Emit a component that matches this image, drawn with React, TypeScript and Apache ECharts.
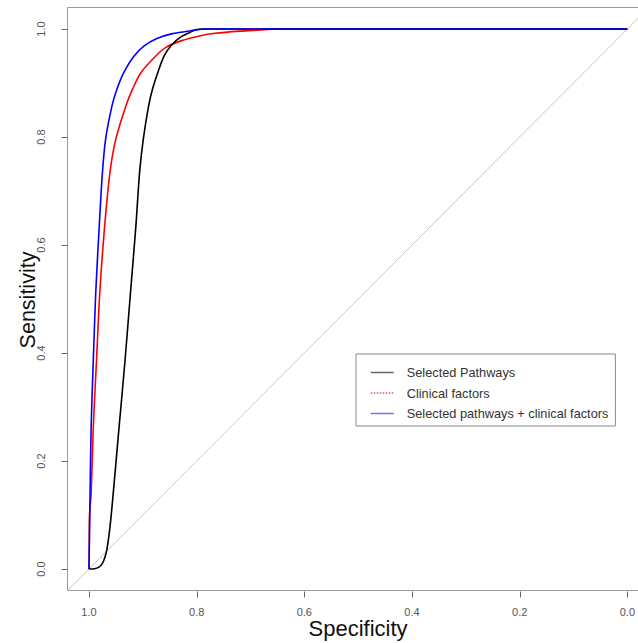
import React, { useEffect, useRef } from "react";
import * as echarts from "echarts";

// [specificity, sensitivity]
const selectedPathways: number[][] = [
  [1.0, 0.0], [0.99, 0.0005], [0.981, 0.004], [0.976, 0.009], [0.972, 0.017],
  [0.967, 0.035], [0.961, 0.078], [0.955, 0.14], [0.944, 0.264], [0.933, 0.387],
  [0.923, 0.511], [0.913, 0.634], [0.906, 0.735], [0.899, 0.797], [0.889, 0.859],
  [0.882, 0.889], [0.872, 0.92], [0.86, 0.951], [0.847, 0.97], [0.83, 0.985],
  [0.812, 0.994], [0.8, 0.999], [0.79, 1.0], [0.6, 1.0], [0.4, 1.0], [0.2, 1.0],
  [0.0, 1.0],
];
const clinicalFactors: number[][] = [
  [1.0, 0.0], [0.9995, 0.05], [0.999, 0.1], [0.996, 0.14], [0.992, 0.264],
  [0.986, 0.387], [0.98, 0.511], [0.971, 0.634], [0.961, 0.735], [0.95, 0.797],
  [0.931, 0.859], [0.919, 0.889], [0.903, 0.92], [0.875, 0.951], [0.857, 0.966],
  [0.829, 0.978], [0.791, 0.988], [0.766, 0.992], [0.72, 0.996], [0.686, 0.998],
  [0.65, 1.0], [0.4, 1.0], [0.2, 1.0], [0.0, 1.0],
];
const combined: number[][] = [
  [1.0, 0.0], [0.999, 0.07], [0.998, 0.14], [0.996, 0.264], [0.992, 0.387],
  [0.9875, 0.511], [0.981, 0.634], [0.975, 0.735], [0.969, 0.797], [0.957, 0.859],
  [0.948, 0.889], [0.935, 0.92], [0.917, 0.949], [0.897, 0.969], [0.875, 0.982],
  [0.847, 0.991], [0.81, 0.997], [0.78, 1.0], [0.6, 1.0], [0.4, 1.0], [0.2, 1.0],
  [0.0, 1.0],
];
// reference line: from (1.04, -0.04) to (-0.04, 1.04)
const diagonal: number[][] = [[1.04, -0.04, -0.04, 1.04]];
const tickValues = [0, 0.2, 0.4, 0.6, 0.8, 1.0];
const EXT = 0.04; // R's 4% axis extension, where the box is drawn
const seriesNames = [
  "Selected Pathways",
  "Clinical factors",
  "Selected pathways + clinical factors",
];

const FONT = "'Liberation Sans', Arial, Helvetica, sans-serif";

export default function App() {
  const ref = useRef<HTMLDivElement>(null);
  useEffect(() => {
    if (!ref.current) return;
    const chart = echarts.init(ref.current, undefined, { renderer: "svg" });
    const axisCommon = {
      type: "value" as const,
      min: 0,
      max: 1,
      interval: 0.2,
      splitLine: { show: false },
      axisLine: { show: false, onZero: false },
      axisTick: { show: false },
    };
    chart.setOption({
      animation: false,
      backgroundColor: "#fff",
      grid: {
        left: 89,
        top: 29,
        width: 538.7,
        height: 540,
        show: false,
      },
      xAxis: {
        ...axisCommon,
        inverse: true,
        position: "bottom",
        offset: 21,
        axisLabel: {
          formatter: (v: number) => v.toFixed(1),
          margin: 16,
          fontSize: 11,
          color: "#555",
          fontFamily: FONT,
          showMinLabel: true,
          showMaxLabel: true,
        },
      },
      yAxis: {
        ...axisCommon,
        position: "left",
        offset: 22,
        axisLabel: {
          formatter: (v: number) => v.toFixed(1),
          rotate: 90,
          margin: 26,
          fontSize: 11,
          color: "#555",
          fontFamily: FONT,
          verticalAlign: "middle",
          align: "center",
          showMinLabel: true,
          showMaxLabel: true,
        },
      },
      legend: {
        orient: "vertical",
        left: 356,
        top: 354,
        borderColor: "#888",
        borderWidth: 1,
        padding: [12, 7, 6, 14],
        itemWidth: 23,
        itemHeight: 12,
        itemGap: 7.5,
        itemStyle: { opacity: 0 },
        textStyle: {
          fontSize: 12.75,
          color: "#333",
          fontFamily: FONT,
          padding: [0, 0, 0, 8],
        },
        data: [
          { name: seriesNames[0], itemStyle: { opacity: 0 }, lineStyle: { color: "#666", width: 1.5 } },
          { name: seriesNames[1], itemStyle: { opacity: 0 }, lineStyle: { color: "#e8507a", width: 1.5, type: "dotted" } },
          { name: seriesNames[2], itemStyle: { opacity: 0 }, lineStyle: { color: "#7a70e8", width: 1.5 } },
        ],
      },
      graphic: [
        {
          type: "rect",
          shape: { x: 67.5, y: 7.5, width: 582, height: 583 },
          style: { fill: "none", stroke: "#999", lineWidth: 1 },
          silent: true,
          z: 0,
        },
        {
          type: "text",
          x: 28,
          y: 300,
          rotation: Math.PI / 2,
          style: {
            text: "Sensitivity",
            fontSize: 21.5,
            fontFamily: FONT,
            fill: "#111",
            align: "center",
            verticalAlign: "middle",
          },
        },
        {
          type: "text",
          x: 358,
          y: 628,
          style: {
            text: "Specificity",
            fontSize: 22,
            fontFamily: FONT,
            fill: "#111",
            align: "center",
            verticalAlign: "middle",
          },
        },
      ],
      series: [
        {
          type: "custom",
          data: tickValues.map((v) => [v, v]),
          silent: true,
          clip: false,
          z: 5,
          renderItem: (_params: any, api: any) => {
            const v = api.value(0);
            const px = api.coord([v, 0])[0];
            const py = api.coord([0, v])[1];
            const boxBottom = Math.round(api.coord([0, -EXT])[1]) + 0.5;
            const boxLeft = Math.round(api.coord([1 + EXT, 0])[0]) + 0.5;
            const style = { stroke: "#666", lineWidth: 1 };
            return {
              type: "group",
              children: [
                {
                  type: "line",
                  shape: { x1: Math.round(px) + 0.5, y1: boxBottom, x2: Math.round(px) + 0.5, y2: boxBottom + 6 },
                  style,
                },
                {
                  type: "line",
                  shape: { x1: boxLeft, y1: Math.round(py) + 0.5, x2: boxLeft - 6, y2: Math.round(py) + 0.5 },
                  style,
                },
              ],
            };
          },
        },
        {
          type: "custom",
          data: diagonal,
          silent: true,
          clip: false,
          z: 1,
          renderItem: (_params: any, api: any) => {
            const p0 = api.coord([api.value(0), api.value(1)]);
            const p1 = api.coord([api.value(2), api.value(3)]);
            return {
              type: "line",
              shape: { x1: p0[0], y1: p0[1], x2: p1[0], y2: p1[1] },
              style: { stroke: "#c8c8c8", lineWidth: 1 },
            };
          },
        },
        {
          name: seriesNames[0],
          type: "line",
          data: selectedPathways,
          symbol: "none",
          smooth: 0.3,
          clip: false,
          itemStyle: { color: "#000" },
          lineStyle: { color: "#000", width: 1.6 },
          z: 3,
        },
        {
          name: seriesNames[1],
          type: "line",
          data: clinicalFactors,
          symbol: "none",
          smooth: 0.3,
          clip: false,
          itemStyle: { color: "#ff0000" },
          lineStyle: { color: "#ff0000", width: 1.6 },
          z: 2,
        },
        {
          name: seriesNames[2],
          type: "line",
          data: combined,
          symbol: "none",
          smooth: 0.3,
          clip: false,
          itemStyle: { color: "#0000ff" },
          lineStyle: { color: "#0000ff", width: 1.6 },
          z: 4,
        },
      ],
    });
    return () => chart.dispose();
  }, []);
  return (
    <div
      ref={ref}
      style={{ position: "fixed", left: 0, top: 0, width: 638, height: 643 }}
    />
  );
}
